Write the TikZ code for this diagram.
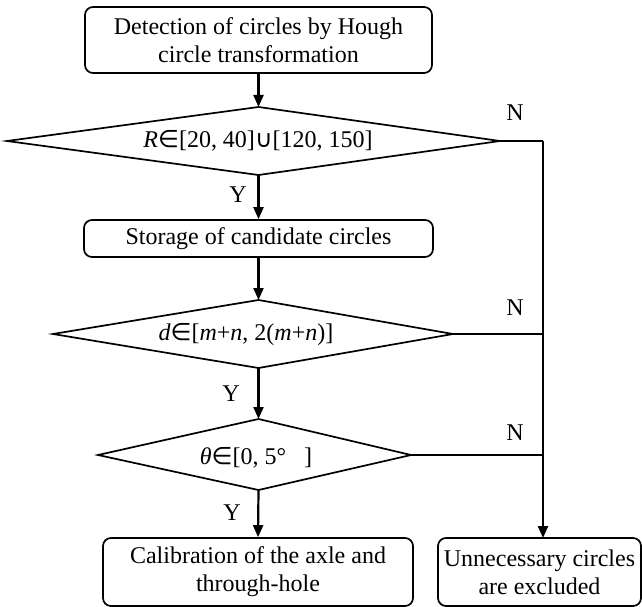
\documentclass[tikz,border=0pt]{standalone}
\usepackage{fontspec}
\setmainfont{Liberation Serif}
\newfontfamily\symf{DejaVu Sans}
\usetikzlibrary{arrows.meta}
\begin{document}
\begin{tikzpicture}[x=1pt,y=-1pt,
  box/.style={draw,rounded corners=8pt,line width=1.7pt,align=center,inner sep=0pt,font=\fontsize{24}{28}\selectfont},
  txt/.style={font=\fontsize{24}{28}\selectfont,align=center,inner sep=0pt},
  dia/.style={draw,line width=1.7pt,line join=miter},
  conn/.style={line width=2pt},
  arr/.style={line width=2.2pt,-{Triangle[length=12pt,width=10pt]}},
  lbl/.style={font=\fontsize{24}{28}\selectfont,inner sep=0pt}]
\useasboundingbox (0,0) rectangle (642,607);

% boxes
\node[box,minimum width=347pt,minimum height=66pt] (b1) at (258.5,40) {Detection of circles by Hough\\circle transformation};
\node[box,minimum width=349pt,minimum height=37pt] (b2) at (258.5,238.5) {Storage of candidate circles};
\node[box,minimum width=310pt,minimum height=68pt] (b3) at (258,572) {Calibration of the axle and\\through-hole};
\node[box,minimum width=203pt,minimum height=68pt] (b4) at (539.5,572) {Unnecessary circles\\are excluded};

% diamonds
\coordinate (d1t) at (258.5,107); \coordinate (d1r) at (500,141);
\coordinate (d1b) at (258.5,175); \coordinate (d1l) at (7,141);
\coordinate (d2t) at (258.5,300); \coordinate (d2r) at (453,334);
\coordinate (d2b) at (258.5,368); \coordinate (d2l) at (53,334);
\coordinate (d3t) at (258.5,419); \coordinate (d3r) at (411,455);
\coordinate (d3b) at (258.5,490); \coordinate (d3l) at (98,455);
\draw[dia] (d1t) -- (d1r) -- (d1b) -- (d1l) -- cycle;
\draw[dia] (d2t) -- (d2r) -- (d2b) -- (d2l) -- cycle;
\draw[dia] (d3t) -- (d3r) -- (d3b) -- (d3l) -- cycle;
\node[txt] (q1) at (258,141) {\textit{R}{\symf ∈}[20, 40]{\symf ∪}[120, 150]};
\node[txt] (q2) at (246,335) {\textit{d}{\symf ∈}[\textit{m}+\textit{n}, 2(\textit{m}+\textit{n})]};
\node[txt] (q3) at (256,458) {\textit{θ}{\symf ∈}[0, 5°\ \ \ ]};

% main flow
\draw[arr] (b1.south) -- (d1t);
\draw[arr] (d1b) -- (b2.north);
\draw[arr] (b2.south) -- (d2t);
\draw[arr] (d2b) -- (d3t);
\draw[arr] (d3b) -- (b3.north);

% N branch
\coordinate (j1) at (543,141);
\coordinate (j2) at (543,334);
\coordinate (j3) at (543,455);
\coordinate (jb) at (543,538);
\draw[conn] (d1r) -- (j1);
\draw[line width=2.8pt] (d2r) -- (j2);
\draw[conn] (d3r) -- (j3);
\draw[arr,line width=2.4pt] (j1) -- (jb);

% labels
\node[lbl] (y1) at (238,195) {Y};
\node[lbl] (y2) at (231,394) {Y};
\node[lbl] (y3) at (232,513) {Y};
\node[lbl] (n1) at (515,113) {N};
\node[lbl] (n2) at (515,308) {N};
\node[lbl] (n3) at (515,433) {N};
\end{tikzpicture}
\end{document}
